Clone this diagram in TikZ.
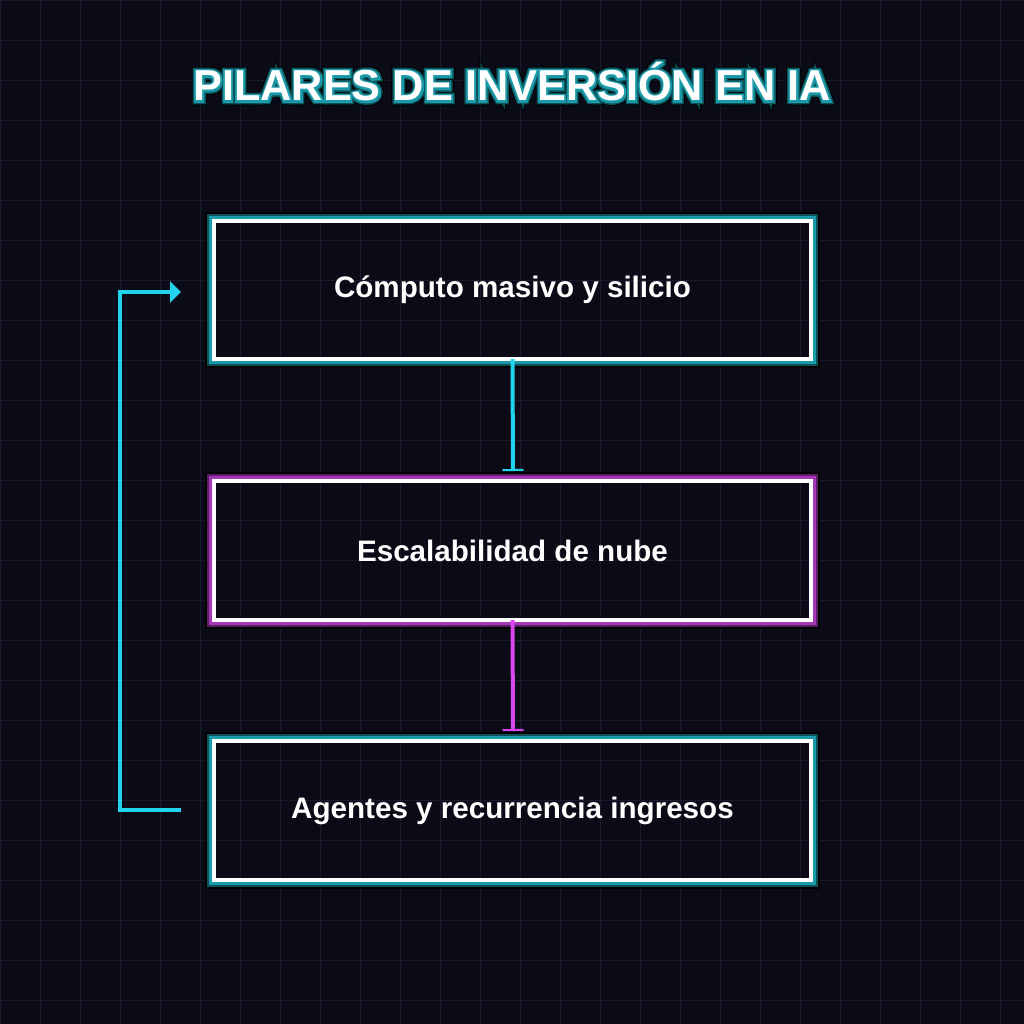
\documentclass[tikz,border=0pt]{standalone}
\usepackage{fontspec}
\setmainfont{Liberation Sans}
\newfontface\titleK[FakeBold=20]{Liberation Sans Bold}
\newfontface\titleD[FakeBold=16]{Liberation Sans Bold}
\newfontface\titleT[FakeBold=9]{Liberation Sans Bold}
\newfontface\titleW{Liberation Sans Bold}
\usetikzlibrary{arrows.meta,calc}
\definecolor{bg}{HTML}{0B0B18}
\definecolor{gridc}{HTML}{1A1A2E}
\definecolor{cyanl}{HTML}{22D3EE}
\definecolor{magl}{HTML}{D946EF}
\definecolor{tealA}{HTML}{1A9AA8}
\definecolor{tealB}{HTML}{0D5058}
\definecolor{purA}{HTML}{A536B5}
\definecolor{purB}{HTML}{5A1F66}
\tikzset{
  boxtext/.style={text=white, font=\fontsize{29.6bp}{34bp}\selectfont\bfseries},
  conn/.style={line width=4bp},
  titletext/.style={inner sep=0pt},
}
\newcommand{\glowbox}[6]{% name, x1,y1,x2,y2, color set (A,B)
  \draw[black, line width=2bp] (#2-8,#3-8) rectangle (#4+8,#5+8);
  \draw[#6B, line width=2bp] (#2-6,#3-6) rectangle (#4+6,#5+6);
  \draw[#6A, line width=3bp] (#2-3.5,#3-3.5) rectangle (#4+3.5,#5+3.5);
  \draw[white, line width=4bp] (#2,#3) rectangle (#4,#5);
  \coordinate (#1) at ({(#2+#4)/2},{(#3+#5)/2});
  \coordinate (#1n) at ({(#2+#4)/2},#3);
  \coordinate (#1s) at ({(#2+#4)/2},#5);
}
\begin{document}
\begin{tikzpicture}[x=1bp,y=-1bp]
\fill[bg] (0,0) rectangle (1024,1024);
\useasboundingbox (0,0) rectangle (1024,1024);
\foreach \k in {0,40,...,1000} {
  \draw[gridc, line width=1bp] (\k+0.5,0) -- (\k+0.5,1024);
  \draw[gridc, line width=1bp] (0,\k+0.5) -- (1024,\k+0.5);
}
% title with outline
\node[titletext, text=black, font=\fontsize{43.3bp}{50bp}\titleK] (titleK) at (512,82) {PILARES DE INVERSIÓN EN IA};
\node[titletext, text=tealB, font=\fontsize{43.3bp}{50bp}\titleD] (titleD) at (512,82) {PILARES DE INVERSIÓN EN IA};
\node[titletext, text=tealA, font=\fontsize{43.3bp}{50bp}\titleT] (titleT) at (512,82) {PILARES DE INVERSIÓN EN IA};
\node[titletext, text=white, font=\fontsize{43.3bp}{50bp}\titleW] (title) at (512,82) {PILARES DE INVERSIÓN EN IA};
% boxes
\glowbox{b1}{214}{221}{811}{359}{teal}
\glowbox{b2}{214}{481}{811}{620}{pur}
\glowbox{b3}{214}{741}{811}{880}{teal}
\node[boxtext] (t1) at (b1) {Cómputo masivo y silicio};
\node[boxtext] (t2) at (b2) {Escalabilidad de nube};
\node[boxtext] (t3) at (b3) {Agentes y recurrencia ingresos};
% connectors
\coordinate (e1) at (513,471);
\coordinate (e2) at (513,731);
\draw[cyanl, conn, -{Bar[width=21bp,line width=2bp]}] (b1s) -- (e1);
\draw[magl, conn, -{Bar[width=21bp,line width=2bp]}] (b2s) -- (e2);
\coordinate (l1) at (181,810);
\coordinate (l2) at (181,292);
\draw[cyanl, line width=4bp, -{Triangle[length=11bp,width=21bp]}] (l1) -| (120,550) |- (l2);
\end{tikzpicture}
\end{document}
